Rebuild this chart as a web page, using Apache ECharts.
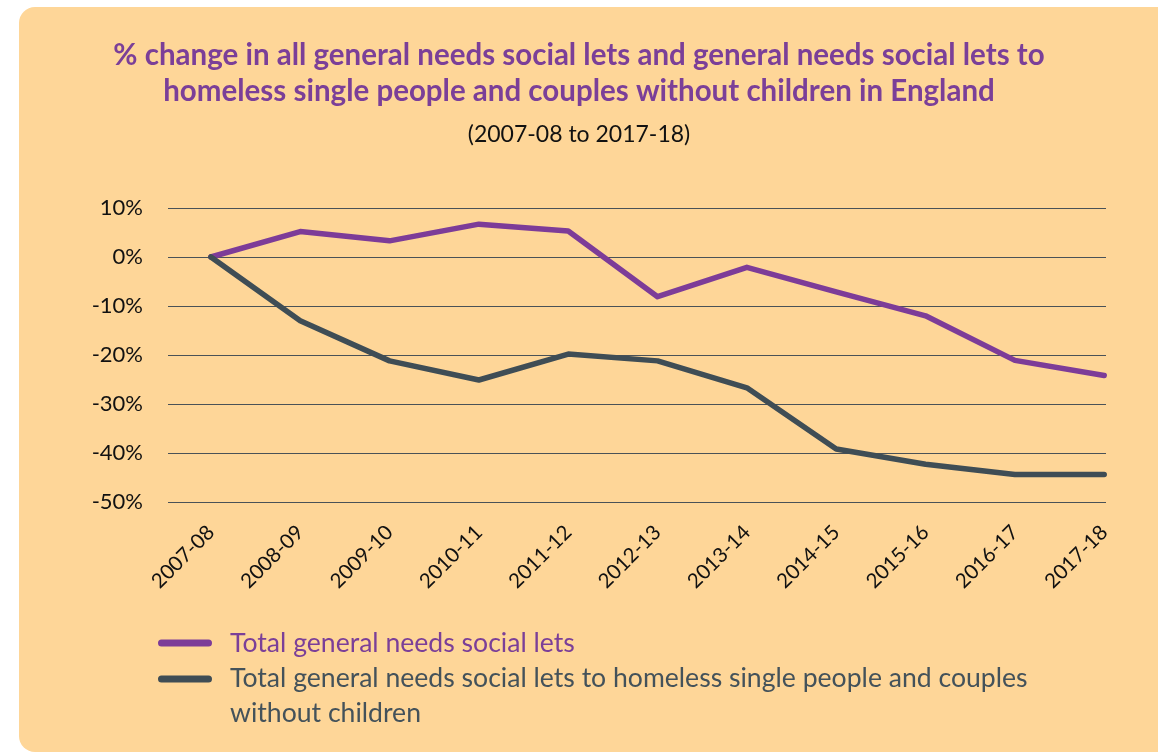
<!DOCTYPE html>
<html>
<head>
<meta charset="utf-8">
<script src="https://cdn.jsdelivr.net/npm/echarts@6/dist/echarts.min.js"></script>
<style>
html,body{margin:0;padding:0;background:#fff;}
#main{width:1158px;height:753px;}
</style>
</head>
<body>
<div id="main"></div>
<script>
const categories = ['2007-08','2008-09','2009-10','2010-11','2011-12','2012-13','2013-14','2014-15','2015-16','2016-17','2017-18'];
const totalLets = [0, 5.2, 3.3, 6.7, 5.3, -8.1, -2.1, -7.1, -12.0, -21.1, -24.2];
const homelessLets = [0, -13.0, -21.2, -25.1, -19.8, -21.2, -26.7, -39.2, -42.3, -44.4, -44.4];
const seriesNames = ['Total general needs social lets', 'Total general needs social lets to homeless single people and couples\nwithout children'];
const yTicks = [-50, -40, -30, -20, -10, 0, 10];

const FONT = 'Lato';
const PURPLE = '#7D3C98';
const DARK = '#3F4D55';
// legend line icons (54px line with round caps, plus invisible spacer to set text offset)
const ICON1 = 'path://M3.5,0h47a3.5,3.5 0 0 1 0,7h-47a3.5,3.5 0 0 1 0,-7z M66.9,6.9h0.1v0.1h-0.1z';
const ICON2 = 'path://M3.5,0h47a3.5,3.5 0 0 1 0,7h-47a3.5,3.5 0 0 1 0,-7z M66.9,40.9h0.1v0.1h-0.1z';

const chart = echarts.init(document.getElementById('main'));
const idx = categories.map((c, i) => i);
chart.setOption({
  backgroundColor: '#ffffff',
  animation: false,
  textStyle: { fontFamily: FONT },
  graphic: [{
    type: 'rect', z: -10, silent: true,
    shape: { x: 19, y: 7, width: 1160, height: 745, r: 16 },
    style: { fill: '#FED698' }
  }],
  title: {
    left: 'center', top: 32,
    text: '% change in all general needs social lets and general needs social lets to\nhomeless single people and couples without children in England',
    textStyle: { fontFamily: FONT, fontSize: 29.5, fontWeight: 'bold', color: '#7B3F98', lineHeight: 36 },
    subtext: '(2007-08 to 2017-18)',
    subtextStyle: { fontFamily: FONT, fontSize: 23, color: '#111', lineHeight: 28 },
    itemGap: 12
  },
  legend: [{
    left: 153, top: 620.5, orient: 'vertical',
    icon: ICON1, itemWidth: 67, itemHeight: 7,
    data: [{ name: seriesNames[0], textStyle: { color: '#7B3F98' } }],
    textStyle: { fontFamily: FONT, fontSize: 26.6, lineHeight: 35 }
  }, {
    left: 153, top: 656, orient: 'vertical',
    icon: ICON2, itemWidth: 67, itemHeight: 41,
    data: [{ name: seriesNames[1], textStyle: { color: '#44525A' } }],
    textStyle: { fontFamily: FONT, fontSize: 26.6, lineHeight: 35 }
  }],
  grid: { left: 168, right: 52, top: 208, bottom: 251, containLabel: false },
  xAxis: {
    type: 'value', min: -0.48, max: 10.02,
    axisLine: { show: false }, axisTick: { show: false }, splitLine: { show: false },
    axisLabel: {
      customValues: idx, rotate: 45, margin: 27,
      formatter: v => categories[Math.round(v)],
      fontFamily: FONT, fontSize: 20.5, color: '#111'
    }
  },
  yAxis: {
    type: 'value', min: yTicks[0], max: yTicks[yTicks.length - 1], interval: 10,
    axisLine: { show: false }, axisTick: { show: false },
    splitLine: { lineStyle: { color: '#4A5257', width: 1 } },
    axisLabel: { formatter: v => v + '%', fontFamily: FONT, fontSize: 22, color: '#111', margin: 25 }
  },
  series: [{
    name: seriesNames[0], type: 'line', showSymbol: false, symbol: 'none',
    data: totalLets.map((v, i) => [i, v]),
    lineStyle: { color: PURPLE, width: 5.5, cap: 'round', join: 'round' },
    itemStyle: { color: PURPLE }
  }, {
    name: seriesNames[1], type: 'line', showSymbol: false, symbol: 'none',
    data: homelessLets.map((v, i) => [i, v]),
    lineStyle: { color: DARK, width: 5.5, cap: 'round', join: 'round' },
    itemStyle: { color: DARK }
  }]
});
</script>
</body>
</html>
